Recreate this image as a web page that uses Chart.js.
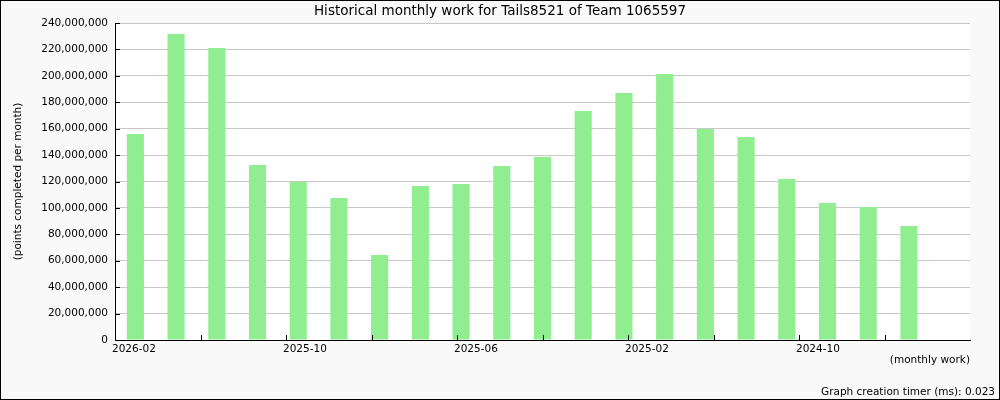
<!DOCTYPE html>
<html>
<head>
<meta charset="utf-8">
<script src="https://cdn.jsdelivr.net/npm/chart.js@4"></script>
<style>
  body { margin: 0; background: #f9f9f9; }
</style>
</head>
<body>
<canvas id="chart" width="1000" height="400"></canvas>
<script>
// months, newest first (last slot is left empty like the original)
let months = ["2026-02","2026-01","2025-12","2025-11","2025-10","2025-09","2025-08","2025-07",
              "2025-06","2025-05","2025-04","2025-03","2025-02","2025-01","2024-12","2024-11",
              "2024-10","2024-09","2024-08","2024-07",""];
let points = [156000000, 231700000, 221100000, 132500000, 119600000, 107500000, 64400000, 116600000,
              118100000, 131700000, 138500000, 173400000, 187000000, 201400000, 159700000, 153700000,
              121900000, 103700000, 100700000, 86300000, null];
let tickLabels = ["2026-02","","2025-10","","2025-06","","2025-02","","2024-10","",""];

let font = "DejaVu Sans";

// background, plot area, outer frame, inward tick marks and timer note
let framePlugin = {
    id: "frame",
    beforeDraw(chart){
        let ctx = chart.ctx;
        let a = chart.chartArea;
        ctx.save();
        ctx.fillStyle = "#f9f9f9";
        ctx.fillRect(0, 0, chart.width, chart.height);
        ctx.fillStyle = "#ffffff";
        ctx.fillRect(a.left, a.top, a.right - a.left, a.bottom - a.top);
        ctx.restore();
    },
    afterDraw(chart){
        let ctx = chart.ctx;
        let a = chart.chartArea;
        ctx.save();
        ctx.strokeStyle = "#000";
        ctx.lineWidth = 1;
        ctx.beginPath();
        let y = chart.scales.y;
        y.ticks.forEach(function(t){
            let py = Math.round(y.getPixelForValue(t.value)) + 0.5;
            ctx.moveTo(a.left, py);
            ctx.lineTo(a.left + 5, py);
        });
        let x2 = chart.scales.x2;
        x2.ticks.forEach(function(t, i){
            if(i == x2.ticks.length - 1) return;
            let px = Math.round(x2.getPixelForValue(t.value)) + 0.5;
            ctx.moveTo(px, a.bottom);
            ctx.lineTo(px, a.bottom - 5);
        });
        ctx.stroke();
        ctx.fillStyle = "#000";
        ctx.font = "10.5px '" + font + "'";
        ctx.textAlign = "right";
        ctx.textBaseline = "middle";
        ctx.fillText("Graph creation timer (ms): 0.023", 995, 392);
        ctx.strokeRect(0.5, 0.5, chart.width - 1, chart.height - 1);
        ctx.restore();
    }
};

let canvas = document.getElementById("chart");
let context = canvas.getContext("2d");

let chart = new Chart(context, {
    type: "bar",
    data: {
        labels: months,
        datasets: [{
            label: "points",
            data: points,
            backgroundColor: "#90ee90",
            borderWidth: 0,
            barPercentage: 0.42,
            categoryPercentage: 1.0
        }]
    },
    options: {
        responsive: false,
        animation: false,
        layout: { padding: 0 },
        plugins: {
            legend: { display: false },
            tooltip: { enabled: false },
            title: {
                display: true,
                text: "Historical monthly work for Tails8521 of Team 1065597",
                color: "#000",
                font: { family: font, size: 13.5, weight: "normal" },
                padding: { top: 3, bottom: 3.8 }
            }
        },
        scales: {
            x: {
                display: false,
                offset: true
            },
            x2: {
                type: "linear",
                position: "bottom",
                offset: false,
                min: 0,
                max: 10,
                afterFit(scale){ scale.height = 60; },
                border: { display: true, color: "#000" },
                grid: { display: false, drawTicks: false, offset: false },
                ticks: {
                    stepSize: 1,
                    autoSkip: false,
                    maxRotation: 0,
                    align: "start",
                    labelOffset: -3,
                    padding: 3,
                    color: "#000",
                    font: { family: font, size: 10.5 },
                    callback: function(value, index){ return tickLabels[index]; }
                },
                title: {
                    display: true,
                    text: "(monthly work)",
                    align: "end",
                    color: "#000",
                    font: { family: font, size: 10.5 },
                    padding: { top: 0, bottom: 33 }
                }
            },
            y: {
                min: 0,
                max: 240000000,
                afterFit(scale){ scale.width = 115; },
                border: { display: true, color: "#000" },
                grid: { color: "#c8c8c8", drawTicks: false },
                ticks: {
                    stepSize: 20000000,
                    padding: 7,
                    color: "#000",
                    font: { family: font, size: 10.5 },
                    callback: function(value){ return value.toLocaleString("en-US"); }
                },
                title: {
                    display: true,
                    text: "(points completed per month)",
                    color: "#000",
                    font: { family: font, size: 10.5 },
                    padding: { top: 12, bottom: 0 }
                }
            },
            // empty right margin so the title stays centred on the whole image
            yRight: {
                type: "linear",
                position: "right",
                afterFit(scale){ scale.width = 30; },
                border: { display: false },
                grid: { display: false, drawTicks: false },
                ticks: { display: false }
            }
        }
    },
    plugins: [framePlugin]
});
</script>
</body>
</html>
